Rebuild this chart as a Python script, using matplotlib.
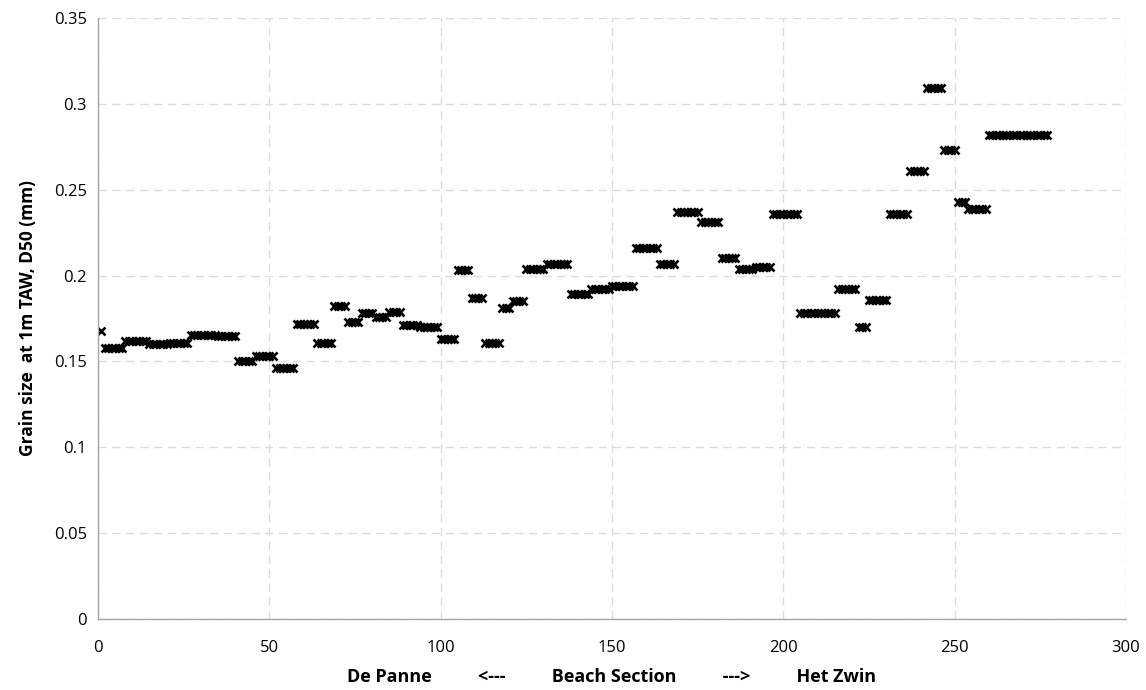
import numpy as np
import matplotlib
matplotlib.use("Agg")
import matplotlib.pyplot as plt

# Beach-section segments (first section, last section, D50 value in mm)
seg_start = [1, 2, 8, 15, 21, 27, 35, 41, 46, 52, 58, 64, 69, 73, 77, 81, 85, 89, 94, 100,
             105, 109, 113, 118, 121, 125, 131, 138, 144, 150, 157, 164, 169, 176, 182, 187,
             192, 197, 205, 216, 222, 225, 231, 237, 242, 247, 251, 254, 260]
seg_end = [1, 7, 14, 20, 26, 34, 40, 45, 51, 57, 63, 68, 72, 76, 80, 84, 88, 93, 99, 104,
           108, 112, 117, 120, 124, 130, 137, 143, 149, 156, 163, 168, 175, 181, 186, 191,
           196, 204, 215, 221, 224, 230, 236, 241, 246, 250, 253, 259, 277]
seg_value = [0.168, 0.158, 0.162, 0.160, 0.161, 0.1655, 0.1648, 0.150, 0.153, 0.146, 0.172,
             0.161, 0.182, 0.173, 0.178, 0.176, 0.179, 0.171, 0.170, 0.163, 0.203, 0.187,
             0.161, 0.181, 0.185, 0.204, 0.207, 0.189, 0.192, 0.194, 0.216, 0.207, 0.237,
             0.231, 0.210, 0.204, 0.205, 0.236, 0.178, 0.192, 0.170, 0.186, 0.236, 0.261,
             0.309, 0.273, 0.243, 0.239, 0.282]

xs, ys = [], []
for s, e, v in zip(seg_start, seg_end, seg_value):
    for k in range(s, e + 1):
        xs.append(k)
        ys.append(v)

plt.rcParams['font.family'] = ['Open Sans', 'DejaVu Sans']

fig = plt.figure(figsize=(11.46, 6.90), dpi=100)
ax = fig.add_axes([98/1146, 1 - 619/690, (1126 - 98)/1146, (619 - 18)/690])

ax.plot(xs, ys, linestyle='none', marker='x', color='black', markersize=5.5, markeredgewidth=1.9)

ax.set_xlim(0, 300)
ax.set_ylim(0, 0.35)
ax.set_xticks(np.arange(0, 301, 50))
ax.set_yticks(np.arange(0, 0.351, 0.05))
ax.set_yticklabels(['0', '0.05', '0.1', '0.15', '0.2', '0.25', '0.3', '0.35'])
ax.grid(True, color='#dcdcdc', linestyle=(0, (6, 4)), linewidth=1.0)
ax.set_axisbelow(True)
for side in ['top', 'right']:
    ax.spines[side].set_visible(False)
for side in ['left', 'bottom']:
    ax.spines[side].set_color('#a6a6a6')
    ax.spines[side].set_linewidth(1.0)
ax.tick_params(axis='both', length=0, labelsize=12, colors='black', pad=8)
ax.tick_params(axis='x', pad=15)

ax.set_xlabel('De Panne          <---          Beach Section          --->          Het Zwin',
              fontsize=13, fontweight='bold', labelpad=9)
ax.set_ylabel('Grain size  at 1m TAW, D50 (mm)', fontsize=12.5, fontweight='bold', labelpad=12)

fig.savefig('out.png', dpi=100)
